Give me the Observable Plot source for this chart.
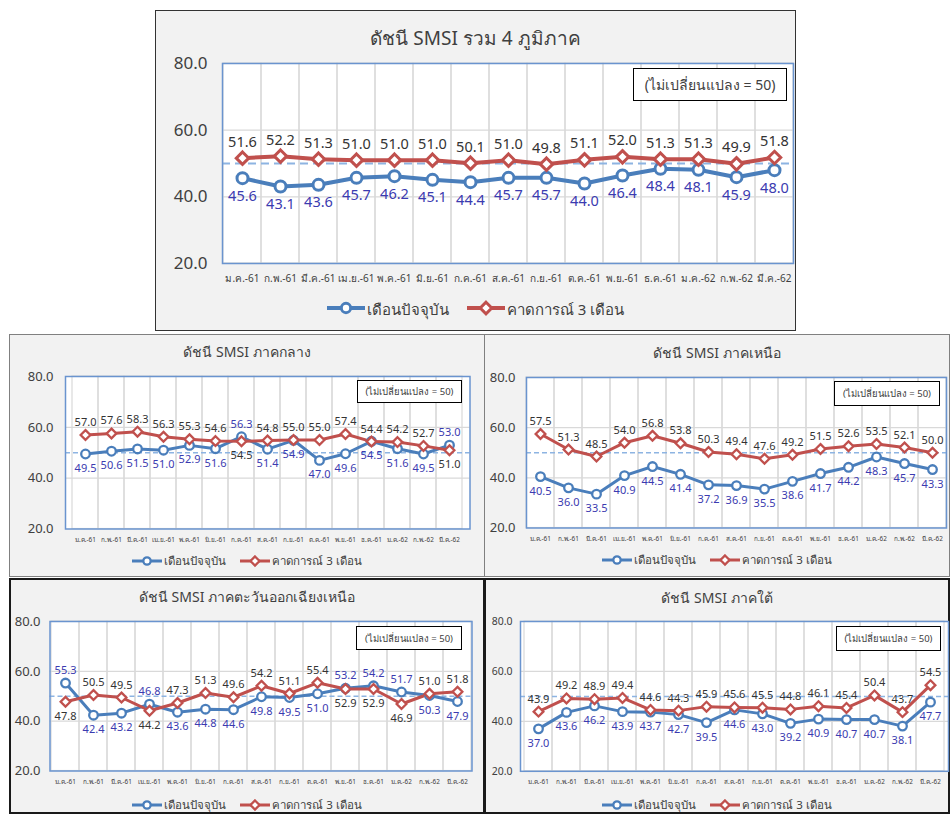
<!DOCTYPE html>
<html><head><meta charset="utf-8">
<script src="https://cdn.jsdelivr.net/npm/d3@7"></script>
<script src="https://cdn.jsdelivr.net/npm/@observablehq/plot@0.6"></script>
<style>
body{margin:0;background:#fff;font-family:"Noto Sans","DejaVu Sans",sans-serif;}
#page{position:relative;width:950px;height:814px;overflow:hidden;}
.panel{position:absolute;box-sizing:border-box;background:#f2f2f2;}
.title{position:absolute;left:0;right:0;text-align:center;color:#404040;white-space:nowrap;transform:translateY(-50%);line-height:1.2;}
.legend{position:absolute;left:0;right:0;display:flex;justify-content:center;align-items:center;color:#404040;transform:translateY(-50%);white-space:nowrap;line-height:1.2;}
.legend svg{display:block;}
.note{position:absolute;box-sizing:border-box;background:#fff;border:1.5px solid #000;display:flex;align-items:center;justify-content:center;color:#404040;white-space:nowrap;}
.chart{position:absolute;left:0;}
</style></head>
<body><div id="page"></div>
<script>
// ---------------- data ----------------
const months = ["ม.ค.-61","ก.พ.-61","มี.ค.-61","เม.ย.-61","พ.ค.-61","มิ.ย.-61","ก.ค.-61","ส.ค.-61","ก.ย.-61","ต.ค.-61","พ.ย.-61","ธ.ค.-61","ม.ค.-62","ก.พ.-62","มี.ค.-62"];
const seriesNames = ["เดือนปัจจุบัน","คาดการณ์ 3 เดือน"];
const yTicks = [20,40,60,80];
const neutral = 50;
const noteText = "(ไม่เปลี่ยนแปลง = 50)";

const titleAll = "ดัชนี SMSI รวม 4 ภูมิภาค";
const allCurrent  = [45.6,43.1,43.6,45.7,46.2,45.1,44.4,45.7,45.7,44.0,46.4,48.4,48.1,45.9,48.0];
const allForecast = [51.6,52.2,51.3,51.0,51.0,51.0,50.1,51.0,49.8,51.1,52.0,51.3,51.3,49.9,51.8];

const titleCentral = "ดัชนี SMSI ภาคกลาง";
const centralCurrent  = [49.5,50.6,51.5,51.0,52.9,51.6,56.3,51.4,54.9,47.0,49.6,54.5,51.6,49.5,53.0];
const centralForecast = [57.0,57.6,58.3,56.3,55.3,54.6,54.5,54.8,55.0,55.0,57.4,54.4,54.2,52.7,51.0];

const titleNorth = "ดัชนี SMSI ภาคเหนือ";
const northCurrent  = [40.5,36.0,33.5,40.9,44.5,41.4,37.2,36.9,35.5,38.6,41.7,44.2,48.3,45.7,43.3];
const northForecast = [57.5,51.3,48.5,54.0,56.8,53.8,50.3,49.4,47.6,49.2,51.5,52.6,53.5,52.1,50.0];

const titleNE = "ดัชนี SMSI ภาคตะวันออกเฉียงเหนือ";
const neCurrent  = [55.3,42.4,43.2,46.8,43.6,44.8,44.6,49.8,49.5,51.0,53.2,54.2,51.7,50.3,47.9];
const neForecast = [47.8,50.5,49.5,44.2,47.3,51.3,49.6,54.2,51.1,55.4,52.9,52.9,46.9,51.0,51.8];

const titleSouth = "ดัชนี SMSI ภาคใต้";
const southCurrent  = [37.0,43.6,46.2,43.9,43.7,42.7,39.5,44.6,43.0,39.2,40.9,40.7,40.7,38.1,47.7];
const southForecast = [43.9,49.2,48.9,49.4,44.6,44.3,45.9,45.6,45.5,44.8,46.1,45.4,50.4,43.7,54.5];

// ---------------- styles / layout ----------------
const BLUE = "#4a7ebb", RED = "#c0504d", CUR_TXT = "#3b3bb0", FC_TXT = "#333333";
const FONT = '"Noto Sans","DejaVu Sans",sans-serif';

const big = {yFont:17, xFont:10, xPad:11, labelFont:14.5, above:16, below:18, r:5.5, sw:3, lw:4, dashW:2, dash:"8,5",
  titleSize:19, legendSize:15, noteSize:14, swW:38, swGap:18, split:false};
const small = {yFont:13, xFont:6.4, xPad:8, labelFont:11, above:12.5, below:14.5, r:4.3, sw:2.3, lw:3, dashW:1.5, dash:"5,3",
  titleSize:14, legendSize:11.5, noteSize:9.5, swW:30, swGap:14, split:true};

const panels = [
  {title:titleAll, cur:allCurrent, fc:allForecast, st:big, bw:1, border:"#333",
   frame:{x:155,y:10,w:641,h:321}, plot:{l:222,r:793,t:63,b:263}, titleY:38, legendY:308, yPad:15,
   note:{l:633,t:68,r:787,b:101}},
  {title:titleCentral, cur:centralCurrent, fc:centralForecast, st:small, bw:1, border:"#808080",
   frame:{x:9,y:334,w:476,h:243}, plot:{l:65,r:469.5,t:376,b:528.5}, titleY:352, legendY:561, yPad:12,
   note:{l:357,t:380,r:462,b:403}},
  {title:titleNorth, cur:northCurrent, fc:northForecast, st:small, bw:1, border:"#808080",
   frame:{x:484,y:334,w:466,h:243}, plot:{l:526,r:946,t:376.5,b:527}, titleY:353, legendY:560, yPad:11,
   note:{l:834,t:381,r:940,b:406}},
  {title:titleNE, cur:neCurrent, fc:neForecast, st:small, bw:2, border:"#1a1a1a",
   frame:{x:9,y:578,w:476,h:236}, plot:{l:49.5,r:471.5,t:621,b:770.5}, titleY:597, legendY:805, yPad:9.5,
   note:{l:356,t:626,r:462,b:650}},
  {title:titleSouth, cur:southCurrent, fc:southForecast, st:{...small, yFont:10.5}, bw:2, border:"#1a1a1a",
   frame:{x:484,y:578,w:466,h:236}, plot:{l:520,r:948,t:620.5,b:770.3}, titleY:598, legendY:805, yPad:8,
   note:{l:836,t:626,r:941,b:651}}
];

function swatch(kind, st){
  const w = st.swW, h = st.r*2+st.sw*2+2, cy = h/2, cx = w/2;
  const s = d3.create("svg").attr("width", w).attr("height", h);
  s.append("line").attr("x1",0).attr("x2",w).attr("y1",cy).attr("y2",cy)
    .attr("stroke", kind==="c"?BLUE:RED).attr("stroke-width", st.lw);
  if (kind==="c") {
    s.append("circle").attr("cx",cx).attr("cy",cy).attr("r",st.r*0.85).attr("fill","#fff").attr("stroke",BLUE).attr("stroke-width",st.sw);
  } else {
    const d = st.r*1.05;
    s.append("path").attr("d",`M${cx},${cy-d}L${cx+d},${cy}L${cx},${cy+d}L${cx-d},${cy}Z`).attr("fill","#fff").attr("stroke",RED).attr("stroke-width",st.sw);
  }
  return s.node();
}

const page = document.getElementById("page");
for (const p of panels) {
  const st = p.st, f = p.frame, bw = p.bw;
  const ox = f.x + bw, oy = f.y + bw; // inner origin
  const div = document.createElement("div");
  div.className = "panel";
  Object.assign(div.style, {left:f.x+"px", top:f.y+"px", width:f.w+"px", height:f.h+"px", border:`${bw}px solid ${p.border}`});
  page.appendChild(div);

  // title
  const t = document.createElement("div");
  t.className = "title"; t.textContent = p.title;
  Object.assign(t.style, {top:(p.titleY-oy)+"px", fontSize:st.titleSize+"px"});
  div.appendChild(t);

  // chart
  const innerW = f.w - 2*bw;
  const svgTop = p.plot.t - 22;
  const svgBottom = p.plot.b + (st.split ? 18 : 26);
  const rows = months.map((m,i)=>({m, cur:p.cur[i], fc:p.fc[i], curUp: st.split && p.cur[i] > p.fc[i] + 0.2}));
  const down = rows.filter(d=>!d.curUp), up = rows.filter(d=>d.curUp);
  const txt = (data, key, dy, fill) => Plot.text(data, {x:"m", y:key, text:d=>d[key].toFixed(1), dy, fill, fontSize:st.labelFont});
  const chart = Plot.plot({
    width: innerW,
    height: svgBottom - svgTop,
    marginLeft: p.plot.l - ox,
    marginRight: ox + innerW - p.plot.r,
    marginTop: p.plot.t - svgTop,
    marginBottom: svgBottom - p.plot.b,
    x: {type:"band", domain: months, padding:0},
    y: {domain:[yTicks[0], yTicks[yTicks.length-1]]},
    style: {background:"transparent", fontFamily:FONT, color:"#404040", overflow:"visible"},
    marks: [
      Plot.frame({fill:"#fff"}),
      Plot.barY(months, {x:d=>d, y1:yTicks[0], y2:yTicks[yTicks.length-1], fill:"none", stroke:"#d9d9d9", strokeWidth:1.2}),
      Plot.ruleY(yTicks.slice(1,-1), {stroke:"#d9d9d9", strokeWidth:1.2}),
      Plot.ruleY([neutral], {stroke:"#8db4e2", strokeWidth:st.dashW, strokeDasharray:st.dash}),
      Plot.frame({stroke:"#6a94cf", strokeWidth:1.5}),
      Plot.line(rows, {x:"m", y:"cur", stroke:BLUE, strokeWidth:st.lw}),
      Plot.line(rows, {x:"m", y:"fc", stroke:RED, strokeWidth:st.lw}),
      Plot.dot(rows, {x:"m", y:"cur", r:st.r, fill:"#fff", stroke:BLUE, strokeWidth:st.sw}),
      Plot.dot(rows, {x:"m", y:"fc", r:st.r*1.02, symbol:"diamond2", fill:"#fff", stroke:RED, strokeWidth:st.sw}),
      txt(down, "cur", st.below, CUR_TXT),
      txt(up, "cur", -st.above, CUR_TXT),
      txt(down, "fc", -st.above, FC_TXT),
      txt(up, "fc", st.below, FC_TXT),
      Plot.axisX({tickSize:0, tickPadding:st.xPad, fontSize:st.xFont, label:null}),
      Plot.axisY(yTicks, {tickSize:0, tickPadding:p.yPad, fontSize:st.yFont, tickFormat:d=>d.toFixed(1), label:null})
    ]
  });
  const holder = document.createElement("div");
  holder.className = "chart";
  holder.style.top = (svgTop - oy) + "px";
  holder.appendChild(chart);
  div.appendChild(holder);

  // note box
  const n = document.createElement("div");
  n.className = "note"; n.textContent = noteText;
  Object.assign(n.style, {left:(p.note.l-ox)+"px", top:(p.note.t-oy)+"px", width:(p.note.r-p.note.l)+"px", height:(p.note.b-p.note.t)+"px", fontSize:st.noteSize+"px"});
  div.appendChild(n);

  // legend
  const lg = document.createElement("div");
  lg.className = "legend";
  Object.assign(lg.style, {top:(p.legendY-oy)+"px", fontSize:st.legendSize+"px"});
  lg.appendChild(swatch("c", st));
  const s1 = document.createElement("span"); s1.textContent = seriesNames[0]; s1.style.marginLeft="2px"; s1.style.marginRight = st.swGap+"px";
  lg.appendChild(s1);
  lg.appendChild(swatch("f", st));
  const s2 = document.createElement("span"); s2.textContent = seriesNames[1]; s2.style.marginLeft="2px";
  lg.appendChild(s2);
  div.appendChild(lg);
}
</script>
</body></html>
